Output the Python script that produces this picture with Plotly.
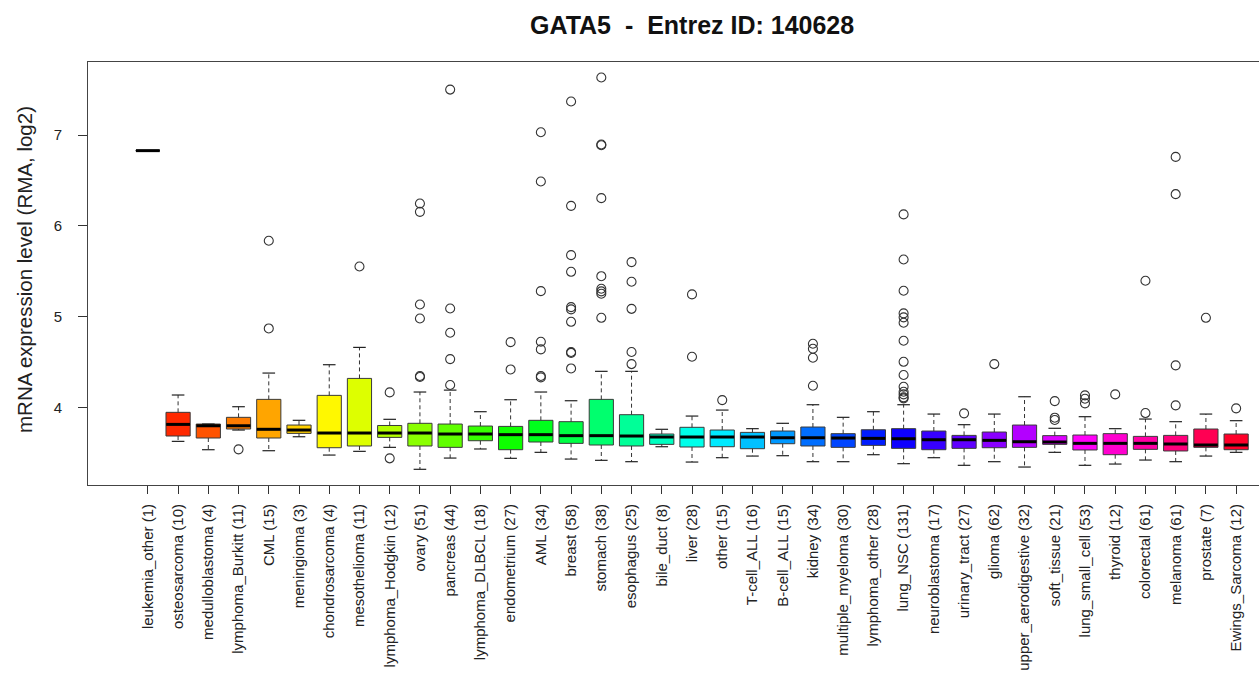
import plotly.graph_objects as go

categories = ["leukemia_other (1)", "osteosarcoma (10)", "medulloblastoma (4)", "lymphoma_Burkitt (11)",
              "CML (15)", "meningioma (3)", "chondrosarcoma (4)", "mesothelioma (11)",
              "lymphoma_Hodgkin (12)", "ovary (51)", "pancreas (44)", "lymphoma_DLBCL (18)",
              "endometrium (27)", "AML (34)", "breast (58)", "stomach (38)", "esophagus (25)",
              "bile_duct (8)", "liver (28)", "other (15)", "T-cell_ALL (16)", "B-cell_ALL (15)",
              "kidney (34)", "multiple_myeloma (30)", "lymphoma_other (28)", "lung_NSC (131)",
              "neuroblastoma (17)", "urinary_tract (27)", "glioma (62)", "upper_aerodigestive (32)",
              "soft_tissue (21)", "lung_small_cell (53)", "thyroid (12)", "colorectal (61)",
              "melanoma (61)", "prostate (7)", "Ewings_Sarcoma (12)"]

q1 = [6.83, 3.684, 3.662, 3.761, 3.662, 3.713, 3.555, 3.574, 3.669, 3.574, 3.559, 3.632,
      3.533, 3.618, 3.603, 3.585, 3.574, 3.592, 3.563, 3.566, 3.544, 3.599, 3.574, 3.559,
      3.581, 3.548, 3.533, 3.548, 3.555, 3.559, 3.592, 3.530, 3.478, 3.537, 3.519, 3.559, 3.533]
median = [6.83, 3.812, 3.797, 3.797, 3.758, 3.750, 3.717, 3.717, 3.717, 3.717, 3.706, 3.706,
          3.699, 3.699, 3.688, 3.688, 3.684, 3.673, 3.673, 3.673, 3.673, 3.665, 3.665, 3.662,
          3.658, 3.654, 3.643, 3.643, 3.636, 3.621, 3.618, 3.603, 3.603, 3.603, 3.596, 3.585, 3.585]
q3 = [6.83, 3.945, 3.816, 3.890, 4.088, 3.805, 4.132, 4.319, 3.800, 3.824, 3.816, 3.794,
      3.790, 3.857, 3.842, 4.088, 3.919, 3.706, 3.780, 3.750, 3.724, 3.739, 3.783, 3.710,
      3.753, 3.765, 3.739, 3.691, 3.728, 3.805, 3.688, 3.695, 3.710, 3.680, 3.691, 3.761, 3.706]
lower_whisker = [6.83, 3.625, 3.533, 3.750, 3.522, 3.676, 3.474, 3.515, 3.559, 3.317, 3.441, 3.541,
                 3.438, 3.504, 3.430, 3.416, 3.401, 3.566, 3.397, 3.445, 3.463, 3.467, 3.401, 3.401,
                 3.478, 3.379, 3.445, 3.361, 3.401, 3.342, 3.504, 3.361, 3.375, 3.419, 3.401, 3.463, 3.504]
upper_whisker = [6.83, 4.136, 3.816, 4.007, 4.378, 3.857, 4.470, 4.661, 3.868, 4.169, 4.190, 3.952,
                 4.084, 4.169, 4.073, 4.397, 4.397, 3.758, 3.904, 3.970, 3.765, 3.824, 4.029, 3.890,
                 3.952, 4.029, 3.926, 3.809, 3.926, 4.117, 3.769, 3.897, 3.765, 3.871, 3.842, 3.926, 3.853]
outliers = [
    [], [], [], [3.537], [5.836, 4.870], [], [], [5.553],
    [4.165, 3.438],
    [6.247, 6.155, 5.134, 4.980, 4.345, 4.335],
    [7.503, 5.090, 4.822, 4.532, 4.246],
    [],
    [4.719, 4.418],
    [7.033, 6.490, 5.281, 4.723, 4.639, 4.345, 4.330],
    [7.371, 6.221, 5.678, 5.494, 5.105, 5.080, 4.943, 4.610, 4.600, 4.429],
    [7.636, 6.897, 6.890, 6.306, 5.446, 5.307, 5.278, 5.252, 4.987],
    [5.601, 5.384, 5.086, 4.610, 4.477],
    [],
    [5.245, 4.558],
    [4.080],
    [], [],
    [4.701, 4.646, 4.547, 4.238],
    [], [],
    [6.127, 5.630, 5.285, 5.036, 4.992, 4.932, 4.734, 4.502, 4.356, 4.227, 4.172, 4.143, 4.110, 4.099],
    [],
    [3.934],
    [4.477],
    [],
    [4.069, 3.886, 3.860],
    [4.132, 4.095, 4.044],
    [4.143],
    [5.395, 3.937],
    [6.761, 6.350, 4.463, 4.022],
    [4.987],
    [3.989],
]
y_ticks = [4, 5, 6, 7]
title_text = "GATA5  -  Entrez ID: 140628"
y_title = "mRNA expression level (RMA, log2)"

colors = ["#FF0000", "#FF2900", "#FF5300", "#FF7C00", "#FFA500", "#FFCF00", "#FFF800", "#DDFF00",
          "#B3FF00", "#8AFF00", "#60FF00", "#37FF00", "#0EFF00", "#00FF1C", "#00FF45", "#00FF6E",
          "#00FF98", "#00FFC1", "#00FFEA", "#00EAFF", "#00C1FF", "#0098FF", "#006EFF", "#0045FF",
          "#001CFF", "#0E00FF", "#3700FF", "#6000FF", "#8A00FF", "#B300FF", "#DD00FF", "#FF00F8",
          "#FF00CF", "#FF00A5", "#FF007C", "#FF0053", "#FF0029"]

n = len(categories)
pos = list(range(n))
fig = go.Figure()

# boxes
for i in pos:
    fig.add_trace(go.Box(
        x=[i], q1=[q1[i]], median=[median[i]], q3=[q3[i]],
        lowerfence=[q1[i]], upperfence=[q3[i]],
        width=0.8, whiskerwidth=0, boxpoints=False,
        fillcolor=colors[i] if i > 0 else "rgba(0,0,0,0)",
        line=dict(color="#3a3a3a", width=1), showlegend=False, hoverinfo="skip"))

# dashed whiskers and solid caps
wx, wy = [], []
cx, cy = [], []
for i in pos:
    if i == 0:
        continue
    wx += [i, i, None, i, i, None]
    wy += [q3[i], upper_whisker[i], None, q1[i], lower_whisker[i], None]
    cx += [i, i]
    cy += [upper_whisker[i], lower_whisker[i]]
fig.add_trace(go.Scatter(x=wx, y=wy, mode="lines", line=dict(color="#333333", width=1, dash="4px,3px"),
                         showlegend=False, hoverinfo="skip"))
fig.add_trace(go.Scatter(x=cx, y=cy, mode="markers",
                         marker=dict(symbol="line-ew", size=9, line=dict(color="#222222", width=1.2)),
                         showlegend=False, hoverinfo="skip"))

# thick medians (line-ew length = 1.4 * size)
fig.add_trace(go.Scatter(x=pos, y=median, mode="markers",
                         marker=dict(symbol="line-ew", size=17, line=dict(color="#000000", width=3)),
                         showlegend=False, hoverinfo="skip"))

# outliers
ox, oy = [], []
for i in pos:
    for v in outliers[i]:
        ox.append(i)
        oy.append(v)
fig.add_trace(go.Scatter(x=ox, y=oy, mode="markers",
                         marker=dict(symbol="circle-open", size=9, color="#333333", line=dict(width=1.1)),
                         showlegend=False, hoverinfo="skip"))

W, H = 1259, 688
L, T, B = 88, 62, 203
pw = W - L
ph = H - T - B

fig.update_layout(
    width=W, height=H,
    margin=dict(l=L, r=0, t=T, b=B, autoexpand=False),
    paper_bgcolor="white", plot_bgcolor="white",
    font=dict(family="Liberation Sans, Arial, sans-serif", color="#222222"),
    xaxis=dict(range=[-1.98, -1.98 + pw / 30.23], tickmode="array", tickvals=pos, ticktext=categories,
               tickangle=-90, ticks="outside", ticklen=8, tickcolor="#333333", tickwidth=1,
               showline=True, linecolor="#444444", linewidth=1, mirror=True,
               showgrid=False, zeroline=False, tickfont=dict(size=15, color="#222222"),
               ticklabelstandoff=4),
    yaxis=dict(range=[3.144, 7.807], tickmode="array", tickvals=y_ticks, ticks="outside", ticklen=9,
               tickcolor="#333333", showline=True, linecolor="#444444", linewidth=1, mirror=False,
               showgrid=False, zeroline=False, tickfont=dict(size=15, color="#222222"),
               ticklabelstandoff=13),
    annotations=[
        dict(text="<b>" + title_text + "</b>", xref="paper", yref="paper",
             x=(692 - L) / pw, y=(H - B - 25) / ph, xanchor="center", yanchor="middle",
             showarrow=False, font=dict(size=25, color="#111111")),
        dict(text=y_title, xref="paper", yref="paper", x=(24 - L) / pw, y=(H - B - 270) / ph,
             xanchor="center", yanchor="middle", textangle=-90, showarrow=False,
             font=dict(size=20.5, color="#222222")),
    ],
)

fig.write_html("out.html", config={"displayModeBar": False},
               post_script="document.body.style.margin='0px';document.body.style.overflow='hidden';")
